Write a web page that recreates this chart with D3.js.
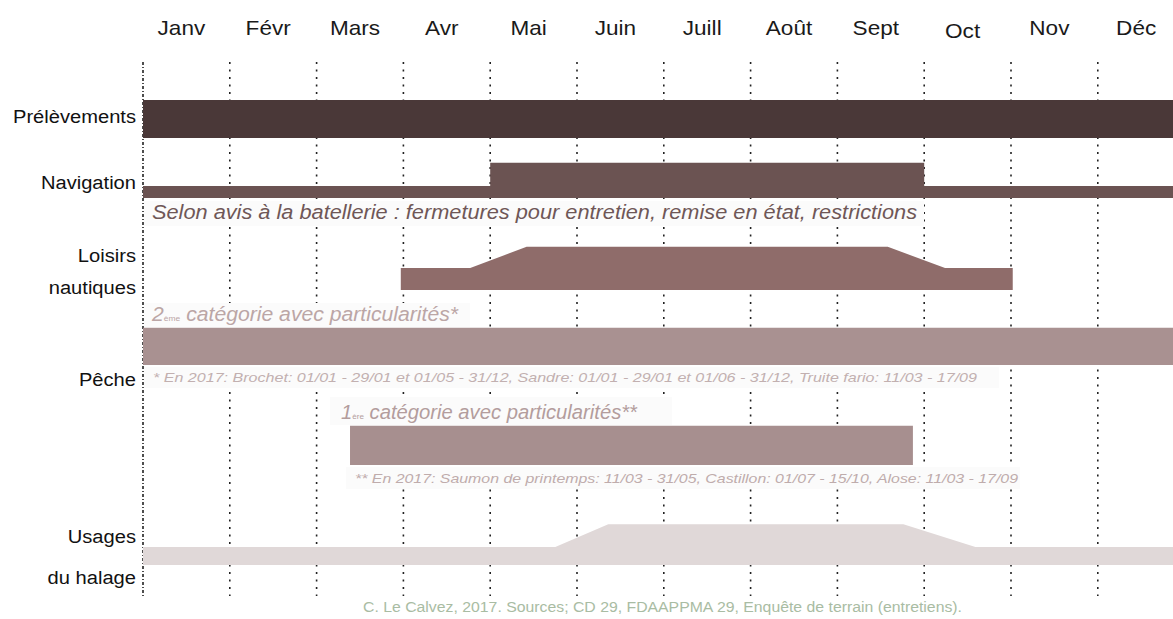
<!DOCTYPE html>
<html>
<head>
<meta charset="utf-8">
<script src="https://cdn.jsdelivr.net/npm/d3@7"></script>
<style>
  body { margin: 0; background: #fff; }
  svg { display: block; font-family: "Liberation Sans", Arial, sans-serif; }
</style>
</head>
<body>
<svg width="1173" height="619"></svg>
<script>
const months = ["Janv", "Févr", "Mars", "Avr", "Mai", "Juin", "Juill", "Août", "Sept", "Oct", "Nov", "Déc"];

// profiles: [month position (0 = 1er janvier), relative thickness]
const prelevements = [[0, 0.95], [12, 0.95]];
const navigation = [[0, 0.3], [4, 0.3], [4, 0.88], [9, 0.88], [9, 0.3], [12, 0.3]];
const loisirs = [[2.97, 0.55], [3.77, 0.55], [4.42, 1.08], [8.58, 1.08], [9.24, 0.55], [10.02, 0.55]];
const pecheSecond = [[0, 0.93], [12, 0.93]];
const pecheFirst = [[2.385, 0.98], [8.87, 0.98]];
const halage = [[0, 0.45], [4.75, 0.45], [5.36, 1.02], [8.76, 1.02], [9.59, 0.45], [12, 0.45]];

const rowLabels = [["Prélèvements"], ["Navigation"], ["Loisirs", "nautiques"], ["Pêche"], ["Usages", "du halage"]];

const noteNavigation = "Selon avis à la batellerie : fermetures pour entretien, remise en état, restrictions";
const noteSecond = ["2", "ème", " catégorie avec particularités*"];
const footSecond = "* En 2017: Brochet: 01/01 - 29/01 et 01/05 - 31/12, Sandre: 01/01 - 29/01 et 01/06 - 31/12, Truite fario: 11/03 - 17/09";
const noteFirst = ["1", "ère", " catégorie avec particularités**"];
const footFirst = "** En 2017: Saumon de printemps: 11/03 - 31/05, Castillon: 01/07 -  15/10, Alose: 11/03 - 17/09";
const credit = "C. Le Calvez, 2017. Sources; CD 29, FDAAPPMA 29, Enquête de terrain (entretiens).";

const svg = d3.select("svg");

const x = d3.scaleLinear().domain([0, 12]).range([143, 143 + 12 * 86.8]);
const h = d3.scaleLinear().domain([0, 1]).range([0, 40]);

// the original lettering is slightly wider than Liberation Sans
const stretch = 1.13;

// month labels
svg.append("g").selectAll("text")
  .data(months)
  .enter().append("text")
  .attr("transform", (d, i) => `translate(${x(i + 0.5) - 5},${i === 9 ? 38 : 35}) scale(${stretch},1)`)
  .attr("text-anchor", "middle")
  .style("font-size", "20px")
  .attr("fill", "#1a1a1a")
  .text(d => d);

// dotted month boundaries
svg.append("g").selectAll("line")
  .data(d3.range(12))
  .enter().append("line")
  .attr("x1", d => x(d)).attr("x2", d => x(d))
  .attr("y1", 62).attr("y2", 596)
  .attr("stroke", "#222")
  .attr("stroke-width", 1.6)
  .attr("stroke-dasharray", d => d === 0 ? "3,2,1,2" : "2,5.5");

// faint boxes behind annotations (they mask the dotted lines)
const boxes = svg.append("g").attr("fill", "#fbfbfb");
boxes.append("rect").attr("x", x(0) + 1).attr("y", 201).attr("width", 780).attr("height", 25);
boxes.append("rect").attr("x", x(0) + 1).attr("y", 303).attr("width", 326).attr("height", 24);
boxes.append("rect").attr("x", x(0) + 1).attr("y", 367).attr("width", 855).attr("height", 21);
boxes.append("rect").attr("x", 330).attr("y", 397).attr("width", 342).attr("height", 28);
boxes.append("rect").attr("x", 346).attr("y", 467).attr("width", 674).attr("height", 22);

// bands
const band = (base) => d3.area()
  .x(d => x(d[0]))
  .y0(base)
  .y1(d => base - h(d[1]));

const series = [
  { data: prelevements, base: 138, color: "#4a3838" },
  { data: navigation, base: 198, color: "#6b5352" },
  { data: loisirs, base: 290, color: "#8f6c6a" },
  { data: pecheSecond, base: 365, color: "#a99191" },
  { data: pecheFirst, base: 465, color: "#a78f8f" },
  { data: halage, base: 565, color: "#e0d8d8" }
];

svg.append("g").selectAll("path")
  .data(series)
  .enter().append("path")
  .attr("d", d => band(d.base)(d.data))
  .attr("fill", d => d.color);

// row labels
const labelY = [[123], [189], [262, 294], [386], [543, 584]];
const labels = svg.append("g")
  .attr("text-anchor", "end")
  .style("font-size", "19px")
  .attr("fill", "#111");
rowLabels.forEach((lines, i) => {
  lines.forEach((t, j) => {
    labels.append("text")
      .attr("transform", `translate(136,${labelY[i][j]}) scale(1.06,1)`)
      .text(t);
  });
});

// annotations
svg.append("text")
  .attr("x", 152).attr("y", 219)
  .attr("textLength", 765).attr("lengthAdjust", "spacingAndGlyphs")
  .style("font-size", "20px").style("font-style", "italic")
  .attr("fill", "#6f5757")
  .text(noteNavigation);

function ordinal(parts, xPos, yPos, len, color) {
  const t = svg.append("text")
    .attr("x", xPos).attr("y", yPos)
    .attr("textLength", len).attr("lengthAdjust", "spacingAndGlyphs")
    .style("font-size", "20px").style("font-style", "italic")
    .attr("fill", color);
  t.append("tspan").text(parts[0]);
  t.append("tspan").style("font-size", "8px").style("font-style", "normal").text(parts[1]);
  t.append("tspan").text(parts[2]);
}
ordinal(noteSecond, 152, 321, 306, "#bba6a6");
ordinal(noteFirst, 341, 419, 296, "#b39d9d");

svg.append("text")
  .attr("x", 153).attr("y", 382)
  .attr("textLength", 824).attr("lengthAdjust", "spacingAndGlyphs")
  .style("font-size", "13.5px").style("font-style", "italic")
  .attr("fill", "#c2b0b0")
  .text(footSecond);

svg.append("text")
  .attr("x", 355).attr("y", 483)
  .attr("textLength", 663).attr("lengthAdjust", "spacingAndGlyphs")
  .style("font-size", "13.5px").style("font-style", "italic")
  .attr("fill", "#bfacac")
  .text(footFirst);

svg.append("text")
  .attr("x", 363).attr("y", 612)
  .attr("textLength", 599).attr("lengthAdjust", "spacingAndGlyphs")
  .style("font-size", "14px")
  .attr("fill", "#a9bca3")
  .text(credit);
</script>
</body>
</html>
